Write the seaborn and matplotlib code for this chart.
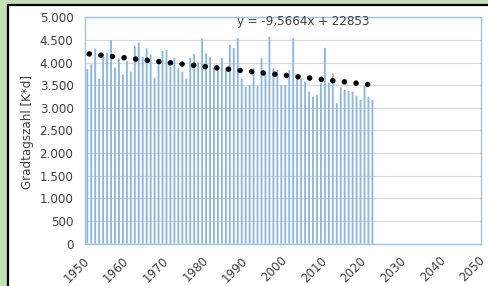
import numpy as np
import pandas as pd
import seaborn as sns
import matplotlib
matplotlib.use("Agg")
import matplotlib.pyplot as plt
import matplotlib.transforms as mtrans
from matplotlib.patches import Rectangle
from matplotlib.ticker import FuncFormatter

# ---- data ----
years = list(range(1951, 2024))
gradtage = [3857, 3961, 4305, 3643, 4170, 4217, 4497, 3886, 4084, 3739,
            4033, 3797, 4371, 4437, 4128, 4313, 4181, 3665, 3982, 4254,
            4283, 3908, 4100, 3870, 3800, 3650, 4100, 4190, 4000, 4534,
            4200, 4120, 3880, 3950, 4100, 3880, 4390, 4320, 4540, 3650,
            3466, 3503, 3872, 3481, 4093, 3797, 4570, 3872, 3834, 3503,
            3503, 3834, 4534, 3673, 3651, 3577, 3356, 3245, 3283, 3540,
            4327, 3554, 3761, 3099, 3453, 3393, 3377, 3356, 3267, 3172,
            3481, 3245, 3172]
trend_slope = -9.5664
trend_intercept = 22853
eq_label = "y = -9,5664x + 22853"
y_label = "Gradtagszahl [K*d]"
x_ticks = [1950, 1960, 1970, 1980, 1990, 2000, 2010, 2020, 2030, 2040, 2050]
y_ticks = [0, 500, 1000, 1500, 2000, 2500, 3000, 3500, 4000, 4500, 5000]

W, H = 488, 286
FS = 8.6
sns.set_theme(style="white")
plt.rcParams["font.family"] = ["DejaVu Sans"]

fig = plt.figure(figsize=(W / 100, H / 100), dpi=100, facecolor="#c5e0b4")
fig.patches.append(Rectangle((8 / W, -0.5), 2, (H - 5) / H + 0.5,
                             transform=fig.transFigure, facecolor="white",
                             edgecolor="black", linewidth=1.6, zorder=-5))

L, R, T, B = 85.3, 481.3, 17.2, 243.7
ax = fig.add_axes([L / W, (H - B) / H, (R - L) / W, (B - T) / H])
ax.set_facecolor("white")

df = pd.DataFrame({"pos": np.array(years) - 0.5, "val": gradtage})
sns.barplot(data=df, x="pos", y="val", native_scale=True, width=0.48,
            color="#8db8e6", saturation=1, linewidth=0, ax=ax, zorder=2)
for p in ax.patches:
    p.set_snap(False)

tx = np.array([years[0], years[-1]], dtype=float)
ty = trend_slope * tx + trend_intercept
sns.lineplot(x=tx, y=ty, ax=ax, color="black", linewidth=4.0,
             linestyle=(0, (0.01, 2.09)), dash_capstyle="round", zorder=3)

ax.set_xlim(1950, 2050)
ax.set_ylim(0, 5000)
ax.set_xticks(x_ticks)
ax.set_yticks(y_ticks)
ax.yaxis.set_major_formatter(FuncFormatter(lambda v, p: f"{int(v):,}".replace(",", ".")))
ax.grid(axis="y", color="#d9d9d9", linewidth=0.8, zorder=0)
ax.grid(axis="x", visible=False)
ax.set_axisbelow(True)
for s in ax.spines.values():
    s.set_color("#9dc3e6")
    s.set_linewidth(1.0)
ax.tick_params(axis="both", length=0, labelsize=FS, labelcolor="#404040")
ax.tick_params(axis="y", pad=8.5)
ax.tick_params(axis="x", pad=10.8)
ax.set_xlabel("")
ax.set_ylabel(y_label, fontsize=FS, color="#404040")
ax.yaxis.label.set_va("center")
ax.yaxis.set_label_coords((28 - L) / (R - L), (B - 132) / (B - T))
shift = mtrans.ScaledTranslation(2 / 100, 0, fig.dpi_scale_trans)
for lab in ax.get_xticklabels():
    lab.set_rotation(45)
    lab.set_ha("right")
    lab.set_va("center")
    lab.set_rotation_mode("anchor")
    lab.set_transform(lab.get_transform() + shift)

fig.text(303.5 / W, 1 - 21 / H, eq_label, ha="center", va="center",
         fontsize=FS, color="#404040", zorder=5)

fig.savefig("out.png", dpi=100, facecolor=fig.get_facecolor())
